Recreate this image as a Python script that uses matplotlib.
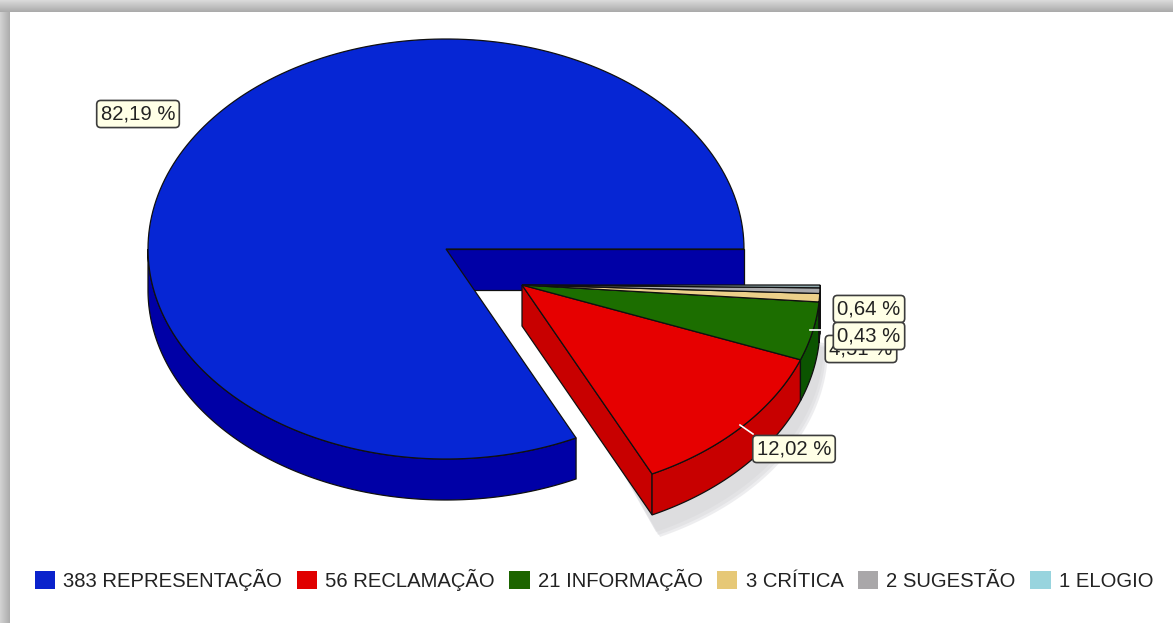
import numpy as np
import matplotlib
matplotlib.use('Agg')
import matplotlib.pyplot as plt
from matplotlib.patches import Patch

plt.rcParams['font.family'] = ['Liberation Sans', 'DejaVu Sans']

#Chart data
categories = ['REPRESENTAÇÃO', 'RECLAMAÇÃO', 'INFORMAÇÃO', 'CRÍTICA', 'SUGESTÃO', 'ELOGIO']
counts = [383, 56, 21, 3, 2, 1]
percent_labels = ['82,19 %', '12,02 %', '4,51 %', '0,64 %', '0,43 %']

#Colours
top_colors = ['#0626d4', '#e60000', '#1c6e00', '#ecd08a', '#a9a9ab', '#8fa8ac']
side_colors = ['#0000a6', '#c80000', '#0b5400', '#c8a860', '#808080', '#78a8b0']
legend_colors = ['#0a22cc', '#e00000', '#1c6400', '#e6c877', '#a9a7a9', '#98d4de']

#Pie geometry in pixels
rx, ry, depth = 298, 210, 41
blue_center = (446, 249)
split_center = (522, 285)

fig = plt.figure(figsize=(11.73, 6.23), dpi=100)
ax = fig.add_axes([0, 0, 1, 1])
ax.set_xlim(0, 1173)
ax.set_ylim(623, 0)
ax.axis('off')


def arc(center, a1, a2):
    t = np.radians(np.linspace(a1, a2, 200))
    return center[0] + rx * np.cos(t), center[1] - ry * np.sin(t)


def draw_top(center, a1, a2, color, z):
    x, y = arc(center, a1, a2)
    ax.fill(np.r_[center[0], x], np.r_[center[1], y], facecolor=color,
            edgecolor='#101010', linewidth=0.9, zorder=z)


def draw_rim(center, a1, a2, color, z):
    x, y = arc(center, a1, a2)
    ax.fill(np.r_[x, x[::-1]], np.r_[y, y[::-1] + depth], facecolor=color,
            edgecolor='#101010', linewidth=0.9, zorder=z)


def draw_cut(center, a, color, z):
    x, y = arc(center, a, a)
    ax.fill([center[0], x[0], x[0], center[0]],
            [center[1], y[0], y[0] + depth, center[1] + depth],
            facecolor=color, edgecolor='#101010', linewidth=0.9, zorder=z)


#Slice angles, first slice starts at 3 o'clock and goes counter clockwise
edges = np.cumsum([0] + counts) / sum(counts) * 360

#Page border
for i in range(12):
    g = 0.85 - 0.18 * i / 11
    ax.fill([0, 1173, 1173, 0], [i, i, i + 1, i + 1], color=(g, g, g), lw=0, zorder=1)
for i in range(10):
    g = 0.82 - 0.14 * i / 9
    ax.fill([i, i + 1, i + 1, i], [12, 12, 623, 623], color=(g, g, g), lw=0, zorder=1)

#Soft shadow of the split part
xs, ys = arc(split_center, edges[1], 360)
for k, (dx, dy) in enumerate([(8, 22), (6, 20), (4, 17)]):
    ax.fill(np.r_[split_center[0], xs] + dx, np.r_[split_center[1], ys + depth] + dy,
            color='#d4d4d8', alpha=0.4, lw=0, zorder=2)

#Large slice
draw_cut(blue_center, 0, side_colors[0], 3)
draw_rim(blue_center, 180, edges[1], side_colors[0], 3)
draw_top(blue_center, edges[0], edges[1], top_colors[0], 4)

#Split slices
draw_cut(split_center, edges[1], side_colors[1], 5)
for i in range(1, 6):
    draw_rim(split_center, edges[i], edges[i + 1], side_colors[i], 5)
for i in range(1, 6):
    draw_top(split_center, edges[i], edges[i + 1], top_colors[i], 6)

#Leader lines
ax.plot([740, 753], [425, 434], color='white', lw=1.2, zorder=7)
ax.plot([810, 835], [330, 330], color='white', lw=1.2, zorder=7)

#Value labels
label_xy = [(138, 114), (794, 449), (861, 349), (869, 309), (869, 336)]
box = dict(boxstyle='round,pad=0.2,rounding_size=0.2', facecolor='#ffffe6',
           edgecolor='#3c3c3c', linewidth=1.2)
for i, txt in enumerate(percent_labels):
    ax.text(label_xy[i][0], label_xy[i][1], txt, fontsize=14.6, color='#222222',
            ha='center', va='center', bbox=box, zorder=8 + i)

#Legend
handles = [Patch(facecolor=c, edgecolor='none') for c in legend_colors]
names = ['%d %s' % (n, c) for n, c in zip(counts, categories)]
ax.legend(handles, names, loc='center', bbox_to_anchor=(594 / 1173, 1 - 580 / 623),
          ncol=6, frameon=False, fontsize=14.6, labelcolor='#222222',
          handlelength=1.0, handleheight=1.0, handletextpad=0.4, columnspacing=0.72,
          borderpad=0, borderaxespad=0)

fig.savefig('out.png', dpi=100)
